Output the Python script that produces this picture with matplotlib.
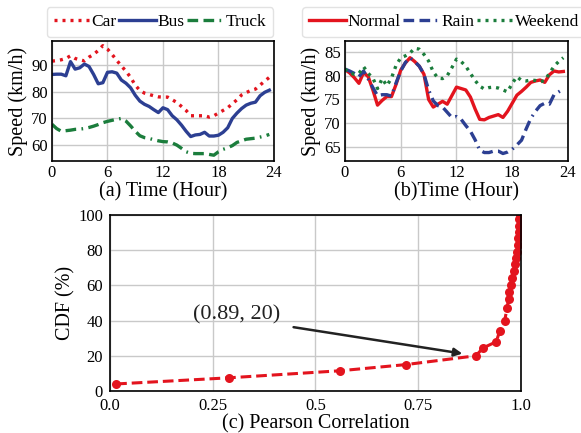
import matplotlib
matplotlib.use("Agg")
import matplotlib.pyplot as plt

plt.rcParams["font.family"] = ["Liberation Serif", "DejaVu Serif"]

# ---- data -------------------------------------------------------------
hours = [0, 0.5, 1, 1.5, 2, 2.5, 3, 3.5, 4, 4.5, 5, 5.5, 6, 6.5, 7, 7.5,
         8, 8.5, 9, 9.5, 10, 10.5, 11, 11.5, 12, 12.5, 13, 13.5, 14, 14.5,
         15, 15.5, 16, 16.5, 17, 17.5, 18, 18.5, 19, 19.5, 20, 20.5, 21,
         21.5, 22, 22.5, 23, 23.5]

car = [91.5, 91.7, 92, 92.5, 93.5, 92.5, 92, 91.6, 93, 94, 95.5, 97.3,
       96, 94, 91.8, 89.7, 87.7, 85.4, 82.5, 80.5, 79.5, 79, 78.5, 78.1,
       78, 78, 77, 76, 74.5, 73, 71, 71, 71, 71, 70.5, 71, 72, 73, 74,
       75.5, 77, 78.8, 79.7, 80.5, 81, 82.5, 84, 85.4]

bus = [86.5, 86.6, 86.6, 86, 91.3, 88.5, 89, 90.4, 89.5, 86.5, 83, 83.4,
       87.3, 87.5, 87, 84.4, 83.2, 81.5, 78.7, 76.5, 75.3, 74.5, 73.3,
       72.2, 74, 73.3, 71, 69.5, 67.5, 65.2, 63.2, 63.8, 64, 64.8, 63.4,
       63.4, 63.7, 64.8, 66.5, 70, 72, 73.7, 75, 75.7, 76.1, 78.5, 79.8,
       80.6]

truck = [67.8, 66.2, 65.2, 65.4, 65.6, 65.9, 66, 66.2, 66.6, 67.1, 67.7,
         68.4, 68.9, 69.3, 69.7, 70, 69, 67.2, 65.2, 63.5, 62.8, 62.5, 62,
         61.6, 61.3, 61.2, 60.8, 60, 58.8, 57.5, 56.9, 56.8, 56.8, 56.8,
         56.5, 56.2, 57.5, 58.4, 59, 59.8, 61, 61.6, 62.2, 62.4, 62.6, 63,
         63.4, 64]

normal = [81.3, 80.6, 79.6, 78.4, 80.7, 79.8, 77, 73.8, 74.8, 75.6, 75.6,
          78.2, 81.2, 82.7, 83.8, 83, 82, 80.3, 75, 73.4, 74, 74.6, 74,
          75.8, 77.6, 77.3, 77, 75.5, 73, 70.8, 70.7, 71.2, 71.5, 71.8,
          71.2, 72.5, 74.2, 75.9, 76.7, 77.6, 78.6, 78.9, 79.1, 78.6, 80.2,
          81, 80.8, 80.9]

rain = [81.4, 81, 80.5, 79.8, 81, 79.3, 77.5, 75.8, 76, 76, 75.7, 78.5,
        81, 82.8, 83.8, 83, 82, 80.3, 77, 74.7, 73.7, 73.4, 72.3, 71.2,
        71.4, 70.8, 69.5, 68.3, 66.5, 64.3, 63.8, 63.8, 64.1, 64.1, 63.6,
        63.9, 64.5, 65.4, 66.4, 68.8, 71, 72.5, 73.7, 74.2, 74, 76, 76.6,
        77.2]

weekend = [81.4, 80.6, 80.3, 80.5, 81.9, 80.5, 79.5, 77.3, 79.4, 77.9,
           79.5, 82.2, 83.8, 84.2, 84.8, 85.8, 85.6, 84.5, 83.1, 80.8, 79.5,
           79.4, 80, 81.7, 83.5, 83, 82, 80.5, 79, 77.8, 77.2, 77.5, 77.6,
           77.4, 77, 76.6, 78.4, 79.8, 79, 78.9, 79.1, 79, 78.7, 79, 80.5,
           82, 83, 83.8]

pearson = [0.015, 0.29, 0.56, 0.72, 0.89, 0.908, 0.94, 0.948, 0.96, 0.966,
           0.970, 0.972, 0.976, 0.979, 0.982, 0.985, 0.988, 0.990, 0.992,
           0.993, 0.994, 0.995, 0.996, 0.997]
cdf = [4, 7.5, 11.5, 15, 20, 24.5, 28, 34, 39.5, 47, 52.5, 56.5, 60.5, 64,
       68, 72, 75.5, 79, 83, 87, 90.5, 94, 97.5, 100]

hour_ticks = [0, 6, 12, 18, 24]
corr_ticks = [0, 0.25, 0.5, 0.75, 1.0]
corr_labels = ["0.0", "0.25", "0.5", "0.75", "1.0"]
cdf_ticks = [0, 20, 40, 60, 80, 100]

RED = "#e3141e"
BLUE = "#2c3f92"
GREEN = "#1b7d3c"
GRID = "#c9c9c9"
DOTTED = (0, (0.9, 1.5))
DASHDOT = (0, (3.2, 1.6, 3.2, 1.6, 0.5, 1.6))

TICK_FS = 12
LABEL_FS = 14.5
LEG_FS = 12.5

LEGEND_KW = dict(loc="center", ncol=3, fontsize=LEG_FS, handlelength=2.1,
                 handletextpad=0.1, columnspacing=0.15, borderpad=0.4,
                 frameon=True, fancybox=True, framealpha=1,
                 edgecolor="#e2e2e2")

fig = plt.figure(figsize=(5.81, 4.33), dpi=100)


def style(ax):
    ax.grid(True, color=GRID, linewidth=1.0)
    ax.set_axisbelow(True)
    ax.tick_params(length=0, pad=3, labelsize=TICK_FS)
    for s in ax.spines.values():
        s.set_color("black")
        s.set_linewidth(1.2)


# ---- (a) speed by vehicle type ---------------------------------------
ax1 = fig.add_axes([0.0895, 0.628, 0.382, 0.277])
ax1.plot(hours, car, color=RED, lw=2.4, linestyle=DOTTED, label="Car")
ax1.plot(hours, bus, color=BLUE, lw=2.4, label="Bus")
ax1.plot(hours, truck, color=GREEN, lw=2.4, linestyle=DASHDOT,
         label="Truck")
ax1.set_xlim(0, 24)
ax1.set_ylim(54, 99)
ax1.set_xticks(hour_ticks)
ax1.set_yticks([60, 70, 80, 90])
ax1.set_xlabel("(a) Time (Hour)", fontsize=LABEL_FS, labelpad=1)
ax1.set_ylabel("Speed (km/h)", fontsize=LABEL_FS, labelpad=2)
style(ax1)
ax1.legend(bbox_to_anchor=(0.275, 0.949), bbox_transform=fig.transFigure,
           **LEGEND_KW)

# ---- (b) speed by day condition --------------------------------------
ax2 = fig.add_axes([0.5938, 0.628, 0.3838, 0.277])
ax2.plot(hours, normal, color=RED, lw=2.4, label="Normal")
ax2.plot(hours, rain, color=BLUE, lw=2.4, linestyle=DASHDOT,
         label="Rain")
ax2.plot(hours, weekend, color=GREEN, lw=2.4, linestyle=DOTTED,
         label="Weekend")
ax2.set_xlim(0, 24)
ax2.set_ylim(62, 87.3)
ax2.set_xticks(hour_ticks)
ax2.set_yticks([65, 70, 75, 80, 85])
ax2.set_xlabel("(b)Time (Hour)", fontsize=LABEL_FS, labelpad=1)
ax2.set_ylabel("Speed (km/h)", fontsize=LABEL_FS, labelpad=2)
style(ax2)
ax2.legend(bbox_to_anchor=(0.765, 0.949), bbox_transform=fig.transFigure,
           **LEGEND_KW)

# ---- (c) CDF of Pearson correlation ----------------------------------
ax3 = fig.add_axes([0.1893, 0.097, 0.7074, 0.4065])
ax3.plot(pearson, cdf, color=RED, lw=2.2, linestyle=(0, (3.5, 1.6)),
         marker="o", markersize=6.5, markeredgewidth=0)
ax3.set_xlim(0, 1)
ax3.set_ylim(0, 100)
ax3.set_xticks(corr_ticks)
ax3.set_xticklabels(corr_labels)
ax3.set_yticks(cdf_ticks)
style(ax3)
ax3.tick_params(axis="x", pad=5)
ax3.tick_params(axis="y", pad=5)
ax3.set_xlabel("(c) Pearson Correlation", fontsize=LABEL_FS, labelpad=0)
ax3.set_ylabel("CDF (%)", fontsize=LABEL_FS, labelpad=2)
ax3.annotate("", xy=(0.864, 21), xytext=(0.44, 36.5),
             arrowprops=dict(arrowstyle="-|>", color="#222222", lw=1.8,
                             mutation_scale=12))
ax3.text(0.309, 43, "(0.89, 20)", fontsize=16, ha="center", va="center",
         color="#222222")

fig.savefig("out.png", dpi=100)
